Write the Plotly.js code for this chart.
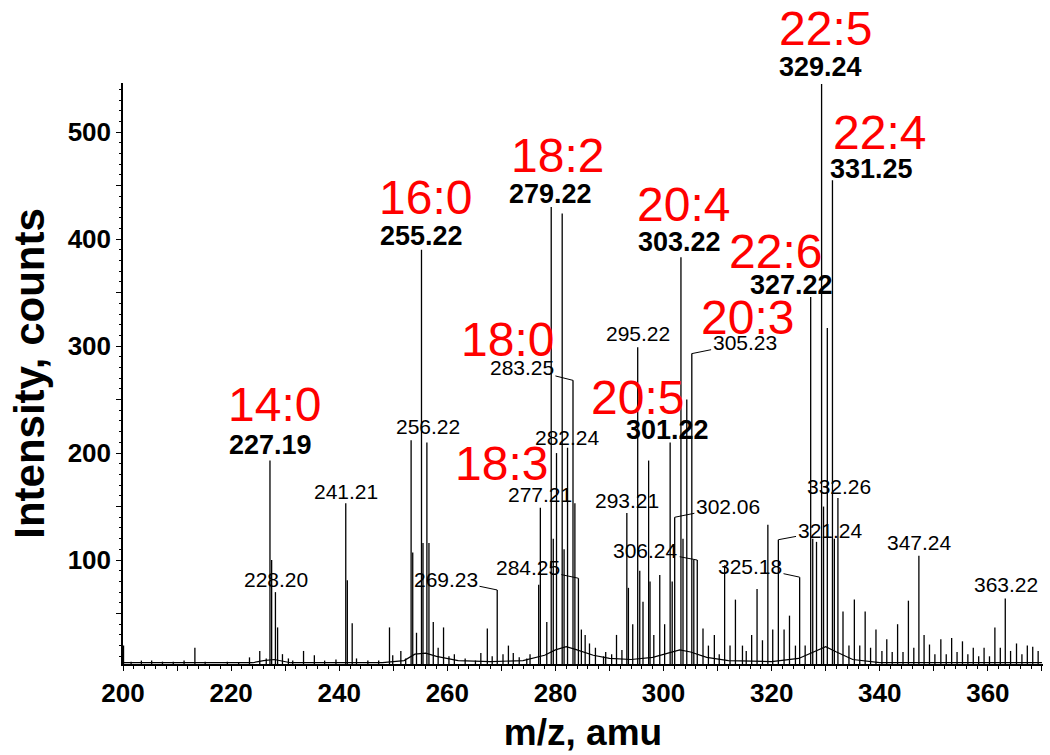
<!DOCTYPE html>
<html>
<head>
<meta charset="utf-8">
<script src="https://cdn.plot.ly/plotly-3.0.1.min.js"></script>
<style>body{margin:0;background:#fff;}</style>
</head>
<body>
<div id="graph" style="width:1050px;height:755px;"></div>
<script>
// peak list (m/z, counts)
const peak_mz = [200.1, 201.5, 203.4, 205.3, 207.3, 209.3, 211.3, 213.3, 215.2, 219.3, 221.4, 223.4, 225.3, 226.5,
    227.19, 227.5, 228.20, 228.6, 229.5, 230.6, 231.4, 233.4, 235.4, 237.3, 239.4, 241.21, 241.5, 242.4, 243.2,
    245.3, 247.3, 249.3, 249.9, 251.4, 252.3, 253.3, 253.6, 254.3, 255.22, 255.5, 256.22, 256.6, 257.4, 258.3,
    259.3, 260.3, 261.3, 263.3, 265.2, 266.2, 267.4, 268.3, 269.23, 270.3, 271.3, 272.2, 273.3, 274.7, 275.3,
    276.9, 277.21, 278.4, 279.22, 279.6, 280.2, 281.25, 281.6, 282.24, 283.25, 283.6, 284.25, 284.8, 285.5,
    286.3, 287.4, 288.9, 289.3, 290.4, 291.3, 292.3, 293.21, 293.5, 294.3, 295.22, 295.6, 296.2, 297.24, 297.5,
    298.2, 299.3, 300.2, 301.22, 301.6, 302.06, 303.22, 303.6, 304.3, 305.23, 305.6, 306.24, 307.3, 308.3,
    309.4, 310.3, 311.3, 312.3, 313.3, 314.6, 315.3, 316.3, 317.3, 318.3, 319.3, 320.2, 321.24, 322.3, 323.3,
    324.4, 325.18, 326.2, 327.22, 327.6, 328.3, 329.24, 329.6, 330.3, 331.25, 331.6, 332.26, 333.2, 334.3,
    335.3, 336.3, 337.3, 338.3, 339.3, 340.4, 341.3, 342.3, 343.3, 344.3, 345.3, 346.3, 347.24, 348.2, 349.2,
    350.2, 351.3, 352.3, 353.3, 354.3, 355.3, 356.3, 357.3, 358.3, 359.3, 360.3, 361.3, 362.3, 363.22, 364.2,
    365.3, 366.3, 367.3, 368.3, 369.3];
const peak_int = [20, 5, 6, 6, 5, 5, 6, 18, 5, 5, 4, 9, 15, 8,
    193, 100, 70, 37, 12, 8, 6, 15, 11, 6, 7, 153, 81, 41, 8,
    6, 6, 37, 11, 15, 8, 212, 107, 32, 390, 116, 210, 116, 42, 18,
    37, 10, 12, 8, 6, 13, 36, 10, 72, 12, 20, 13, 9, 8, 12,
    77, 149, 42, 430, 120, 200, 424, 110, 205, 268, 153, 83, 35, 30,
    22, 18, 10, 14, 12, 30, 16, 144, 74, 40, 299, 90, 61, 193, 80,
    30, 86, 40, 210, 80, 140, 383, 120, 250, 293, 100, 100, 36, 20,
    30, 12, 95, 20, 63, 20, 15, 30, 73, 25, 133, 35, 119, 35, 48,
    20, 84, 20, 346, 120, 117, 545, 150, 317, 455, 120, 158, 52, 20,
    63, 20, 52, 18, 35, 15, 26, 14, 40, 14, 62, 18, 104, 30, 21,
    12, 26, 12, 27, 14, 24, 12, 18, 10, 18, 10, 37, 18, 64, 15,
    22, 12, 20, 19, 15];

// broad chemical-noise baseline under the sticks
const base_mz = [200, 224, 226, 228, 231, 248, 252, 254, 256, 258, 262, 268, 274, 278, 280, 282, 284, 287, 290,
    294, 298, 301, 303, 305, 308, 312, 320, 325, 328, 330, 332, 335, 340, 370];
const base_int = [4, 4, 6, 7, 4, 4, 6, 12, 13, 10, 6, 5, 6, 11, 16, 19, 16, 11, 8,
    7, 9, 13, 16, 14, 9, 6, 5, 8, 15, 19, 14, 7, 4, 4];

// fatty acid names
const fa_names = ['14:0', '16:0', '18:2', '18:0', '18:3', '20:5', '20:4', '20:3', '22:6', '22:5', '22:4'];
// main peak labels and the other labelled peaks
const main_labels = ['227.19', '255.22', '279.22', '303.22', '329.24', '331.25', '327.22', '301.22'];
const minor_labels = ['228.20', '241.21', '256.22', '277.21', '282.24', '293.21', '295.22', '332.26', '347.24', '363.22'];
const leader_labels = ['269.23', '284.25', '283.25', '305.23', '302.06', '306.24', '321.24', '325.18'];

// where the texts sit (m/z, counts)
const fa_pos = [[228.1, 245], [255.9, 439], [280.3, 478], [271.2, 306], [270.1, 190], [295.1, 252],
    [303.6, 432], [315.6, 327], [320.8, 388], [330.0, 597], [340.0, 500]];
const main_pos = [[227.2, 208], [255.3, 403], [279.0, 442], [303.0, 397], [329.1, 561], [338.4, 466],
    [323.6, 357], [300.8, 222]];
const minor_pos = [[228.3, 82], [241.25, 164], [256.4, 225], [277.1, 161], [282.3, 215], [293.2, 156],
    [295.3, 312], [332.4, 169], [347.4, 116], [363.3, 77]];
const leader_pos = [[259.75, 82], [274.9, 93], [273.8, 280], [315.0, 303], [311.9, 150], [296.7, 109],
    [330.8, 128], [316.0, 94]];

const y_range = [2.8, 546];

function sticks() {
    let x = [];
    let y = [];
    for (let i = 0; i < peak_mz.length; i++) {
        x.push(peak_mz[i], peak_mz[i], null);
        y.push(0, peak_int[i], null);
    }
    return [x, y];
}

// labels may sit above the axis top, so place them in paper units
function to_paper(v) {
    return (v - y_range[0]) / (y_range[1] - y_range[0]);
}

function text_label(text, pos, font) {
    return {
        text: text, x: pos[0], y: to_paper(pos[1]), xref: 'x', yref: 'paper',
        xanchor: 'center', yanchor: 'middle', showarrow: false, font: font
    };
}

function build_annotations() {
    let anns = [];
    const fam = 'Arial, "Liberation Sans", sans-serif';
    fa_names.forEach((name, i) => {
        anns.push(text_label(name, fa_pos[i], {family: fam, size: 48, color: '#ff0000'}));
    });
    main_labels.forEach((lab, i) => {
        anns.push(text_label(lab, main_pos[i], {family: fam, size: 27, color: '#000', weight: 'bold'}));
    });
    minor_labels.forEach((lab, i) => {
        anns.push(text_label(lab, minor_pos[i], {family: fam, size: 21, color: '#000'}));
    });
    leader_labels.forEach((lab, i) => {
        let mz = parseFloat(lab);
        let idx = peak_mz.indexOf(mz);
        anns.push({
            text: lab, x: mz, y: peak_int[idx], xref: 'x', yref: 'y',
            ax: leader_pos[i][0], ay: leader_pos[i][1], axref: 'x', ayref: 'y',
            showarrow: true, arrowhead: 0, arrowwidth: 1, arrowcolor: '#000', standoff: 0,
            font: {family: fam, size: 21, color: '#000'}
        });
    });
    return anns;
}

let [sx, sy] = sticks();

let trace_sticks = {
    x: sx,
    y: sy,
    mode: 'lines',
    type: 'scatter',
    line: {color: '#000', width: 1.3},
    hoverinfo: 'skip',
    showlegend: false
};
let trace_base = {
    x: base_mz,
    y: base_int,
    mode: 'lines',
    type: 'scatter',
    line: {color: '#000', width: 1.2},
    hoverinfo: 'skip',
    showlegend: false
};

let xvals = [];
let xtext = [];
for (let v = 200; v <= 370; v += 10) {
    xvals.push(v);
    xtext.push(v % 20 === 0 ? String(v) : '');
}
let yvals = [];
let ytext = [];
for (let v = 50; v <= 500; v += 50) {
    yvals.push(v);
    ytext.push(v % 100 === 0 ? String(v) : '');
}

let layout = {
    width: 1050,
    height: 755,
    margin: {l: 123, r: 7, t: 83, b: 91},
    paper_bgcolor: '#fff',
    plot_bgcolor: '#fff',
    font: {family: 'Arial, "Liberation Sans", sans-serif', color: '#000'},
    xaxis: {
        range: [200, 370.2],
        showgrid: false,
        zeroline: false,
        showline: true,
        linecolor: '#000',
        linewidth: 1.5,
        ticks: 'outside',
        ticklen: 5,
        tickcolor: '#000',
        tickvals: xvals,
        ticktext: xtext,
        tickfont: {size: 26, weight: 'bold'},
        minor: {dtick: 2, ticklen: 3, tickcolor: '#000', ticks: 'outside'},
        title: {text: 'm/z, amu', font: {size: 37, weight: 'bold'}, standoff: 12}
    },
    yaxis: {
        range: y_range,
        showgrid: false,
        zeroline: false,
        showline: true,
        linecolor: '#000',
        linewidth: 1.5,
        ticks: 'outside',
        ticklen: 5,
        tickcolor: '#000',
        tickvals: yvals,
        ticktext: ytext,
        tickfont: {size: 26, weight: 'bold'},
        minor: {dtick: 10, ticklen: 2, tickcolor: '#000', ticks: 'outside'},
        title: {text: 'Intensity, counts', font: {size: 42, weight: 'bold'}, standoff: 10}
    },
    annotations: build_annotations()
};

Plotly.newPlot('graph', [trace_base, trace_sticks], layout, {displayModeBar: false});
</script>
</body>
</html>
